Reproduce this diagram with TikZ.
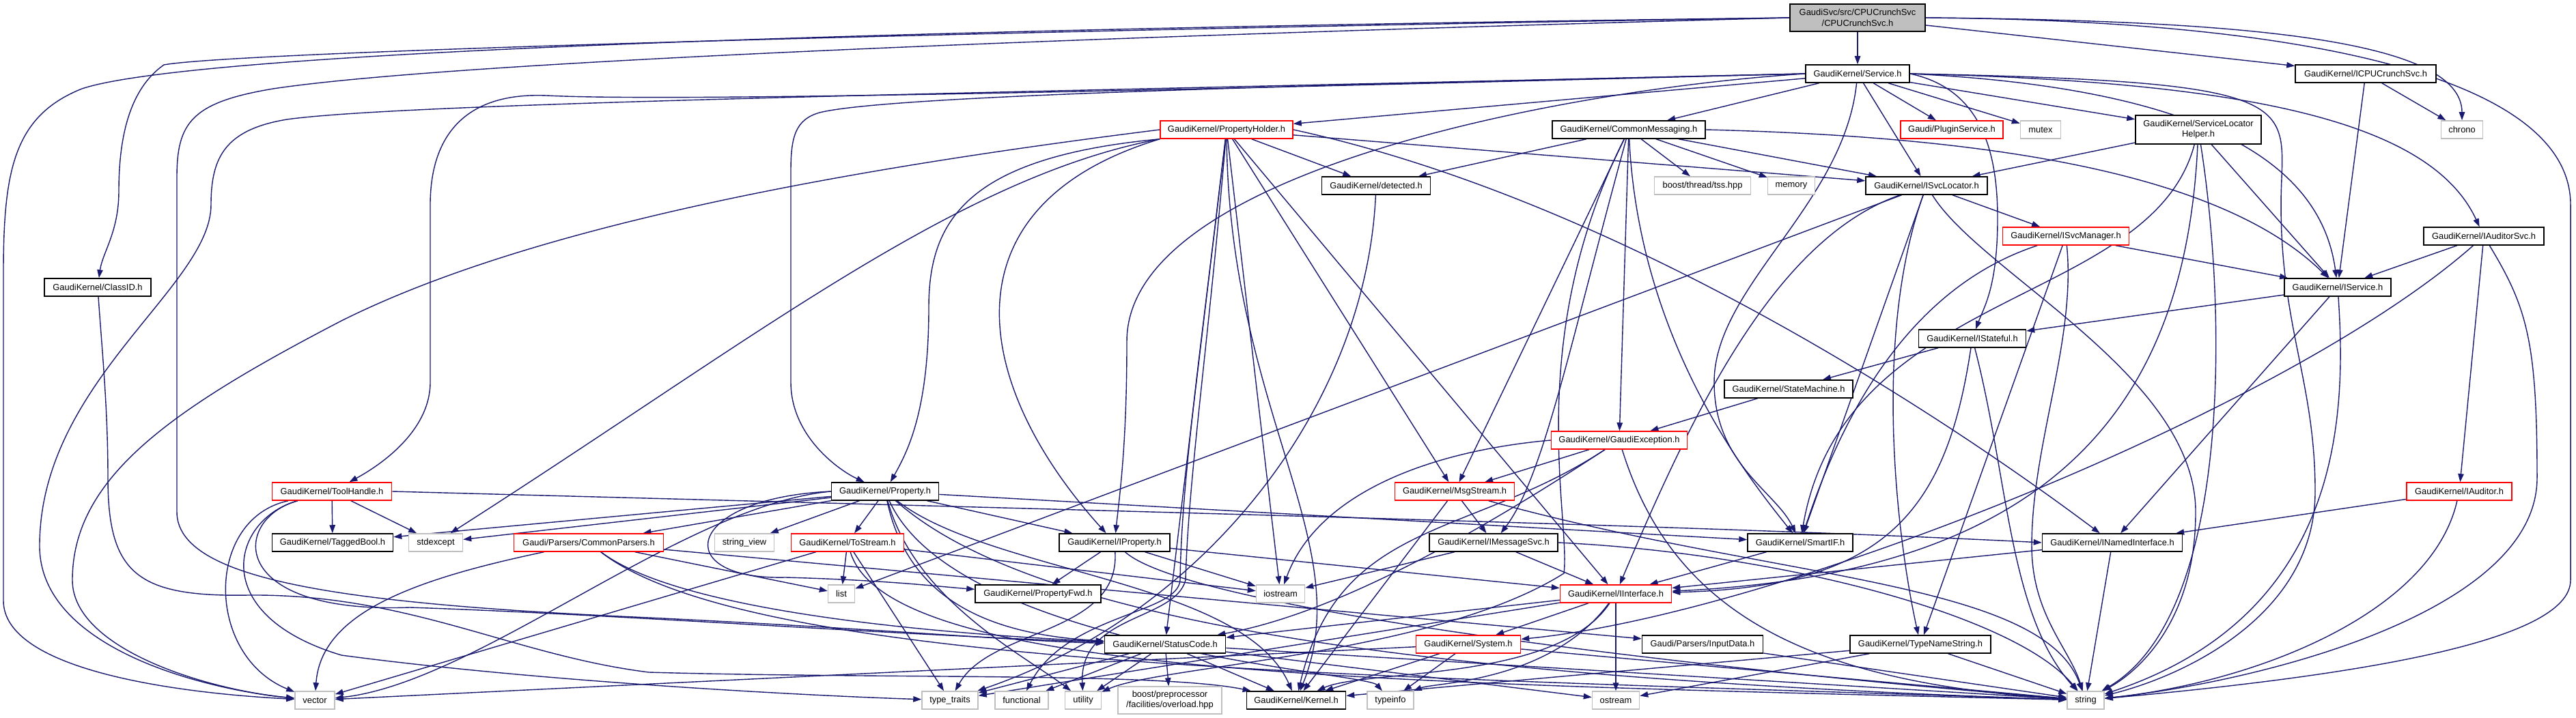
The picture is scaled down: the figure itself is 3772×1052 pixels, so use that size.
\documentclass[tikz,border=0pt]{standalone}
\usepackage{fontspec}
\setmainfont{Liberation Sans}
\usetikzlibrary{arrows.meta}
\definecolor{navyc}{HTML}{191970}
\definecolor{boxgray}{HTML}{BFBFBF}
\definecolor{boxred}{HTML}{FF0000}
\pgfdeclarelayer{bg}
\pgfsetlayers{bg,main}
\newcommand{\nodefont}{\fontsize{6.45pt}{7.6pt}\selectfont}
\tikzset{
  nb/.style={draw=black, fill=white, line width=0.75pt, inner sep=1pt, minimum height=13pt, font=\nodefont},
  nr/.style={nb, draw=boxred},
  ng/.style={nb, draw=boxgray},
  edg/.style={draw=navyc, line width=0.7pt, -{Triangle[length=6pt,width=4.2pt]}}
}
\begin{document}
\begin{tikzpicture}[x=0.5pt,y=-0.5pt]
\useasboundingbox (0,0) rectangle (3772,1052);
% nodes
\node[nb,fill=boxgray,minimum width=99pt,minimum height=20pt,align=center] (root) at (2720,26) {GaudiSvc/src/CPUCrunchSvc\\/CPUCrunchSvc.h};
\node[nb,minimum width=76pt] (service) at (2720,108) {GaudiKernel/Service.h};
\node[nb,minimum width=103pt] (icpu) at (3464,108) {GaudiKernel/ICPUCrunchSvc.h};
\node[nb,minimum width=78pt] (classid) at (143,421) {GaudiKernel/ClassID.h};
\node[nr,minimum width=97pt] (propholder) at (1796,190) {GaudiKernel/PropertyHolder.h};
\node[nb,minimum width=112pt] (commsg) at (2385,190) {GaudiKernel/CommonMessaging.h};
\node[nr,minimum width=75pt] (plugin) at (2858,190) {Gaudi/PluginService.h};
\node[ng,minimum width=29.5pt] (mutex) at (2988,190) {mutex};
\node[nb,minimum width=92pt,minimum height=21pt,align=center] (slh) at (3219,190) {GaudiKernel/ServiceLocator\\Helper.h};
\node[ng,minimum width=30.5pt] (chrono) at (3605,190) {chrono};
\node[nb,minimum width=79.5pt] (detected) at (2015,272) {GaudiKernel/detected.h};
\node[ng,minimum width=70.5pt] (tss) at (2493,272) {boost/thread/tss.hpp};
\node[ng,minimum width=34.5pt] (memory) at (2623,272) {memory};
\node[nb,minimum width=89pt] (isvcloc) at (2821,272) {GaudiKernel/ISvcLocator.h};
\node[nr,minimum width=92.5pt] (isvcmgr) at (3025,346) {GaudiKernel/ISvcManager.h};
\node[nb,minimum width=88pt] (iauditorsvc) at (3637,346) {GaudiKernel/IAuditorSvc.h};
\node[nb,minimum width=78pt] (iservice) at (3423,421) {GaudiKernel/IService.h};
\node[nb,minimum width=78.5pt] (istateful) at (2888,496) {GaudiKernel/IStateful.h};
\node[nb,minimum width=94pt] (statemachine) at (2619,570) {GaudiKernel/StateMachine.h};
\node[nr,minimum width=99.5pt] (gaudiexc) at (2371,645) {GaudiKernel/GaudiException.h};
\node[nr,minimum width=87.5pt] (toolhandle) at (486,720) {GaudiKernel/ToolHandle.h};
\node[nb,minimum width=88.5pt] (taggedbool) at (487,795) {GaudiKernel/TaggedBool.h};
\node[ng,minimum width=39.5pt] (stdexcept) at (638,795) {stdexcept};
\node[nr,minimum width=109.5pt] (commonparsers) at (862,795) {Gaudi/Parsers/CommonParsers.h};
\node[nb,minimum width=78.5pt] (property) at (1296,720) {GaudiKernel/Property.h};
\node[ng,minimum width=43.5pt] (stringview) at (1090,795) {string\_view};
\node[nr,minimum width=82.5pt] (tostream) at (1241,795) {GaudiKernel/ToStream.h};
\node[nb,minimum width=81pt] (iproperty) at (1632,795) {GaudiKernel/IProperty.h};
\node[ng,minimum width=19.5pt] (list) at (1232,870) {list};
\node[nb,minimum width=92pt] (propfwd) at (1520,870) {GaudiKernel/PropertyFwd.h};
\node[ng,minimum width=35.5pt] (iostream) at (1875,870) {iostream};
\node[nr,minimum width=87.5pt] (msgstream) at (2130,720) {GaudiKernel/MsgStream.h};
\node[nb,minimum width=94pt] (imsgsvc) at (2187,795) {GaudiKernel/IMessageSvc.h};
\node[nb,minimum width=77pt] (smartif) at (2636,795) {GaudiKernel/SmartIF.h};
\node[nb,minimum width=102.5pt] (inamed) at (3093,795) {GaudiKernel/INamedInterface.h};
\node[nr,minimum width=77pt] (iauditor) at (3601,720) {GaudiKernel/IAuditor.h};
\node[nr,minimum width=81.5pt] (iinterface) at (2366,870) {GaudiKernel/IInterface.h};
\node[nb,minimum width=88.5pt] (statuscode) at (1706,944) {GaudiKernel/StatusCode.h};
\node[nr,minimum width=76.5pt] (system) at (2150,944) {GaudiKernel/System.h};
\node[nb,minimum width=88.5pt] (inputdata) at (2493,944) {Gaudi/Parsers/InputData.h};
\node[nb,minimum width=103pt] (typename) at (2812,944) {GaudiKernel/TypeNameString.h};
\node[ng,minimum width=29pt] (vector) at (461,1026) {vector};
\node[ng,minimum width=41pt] (typetraits) at (1391,1026) {type\_traits};
\node[ng,minimum width=39pt] (functional) at (1496,1026) {functional};
\node[ng,minimum width=26.5pt] (utility) at (1586,1026) {utility};
\node[ng,minimum width=76pt,minimum height=20pt,align=center] (overload) at (1713,1026) {boost/preprocessor\\/facilities/overload.hpp};
\node[nb,minimum width=72.5pt] (kernel) at (1898,1026) {GaudiKernel/Kernel.h};
\node[ng,minimum width=34pt] (typeinfo) at (2036,1026) {typeinfo};
\node[ng,minimum width=34.5pt] (ostream) at (2366,1026) {ostream};
\node[ng,minimum width=27pt] (string) at (3054,1026) {string};

\begin{pgfonlayer}{bg}
\fill[white] (0,0) rectangle (3772,1052);
% root
\draw[edg] (root) -- (service);
\draw[edg] (root) -- (icpu);
\draw[edg] (root.east) .. controls (3300,30) and (3605,60) .. (chrono);
\draw[edg] (root.east) .. controls (3400,30) and (3764,120) .. (3764,300) -- (3764,850) .. controls (3764,940) and (3450,990) .. (string);
\draw[edg] (root.west) .. controls (1500,40) and (300,70) .. (120,130) .. controls (20,170) and (5,250) .. (5,400) -- (5,880) .. controls (5,980) and (250,1015) .. (vector);
\draw[edg] (root.west) .. controls (1500,44) and (350,75) .. (240,95) .. controls (190,130) and (174,200) .. (174,280) .. controls (174,340) and (150,370) .. (classid);
\draw[edg] (root.west) .. controls (1800,48) and (700,85) .. (400,130) .. controls (280,150) and (259,180) .. (259,260) -- (259,750) .. controls (259,850) and (500,885) .. (950,905) .. controls (1300,922) and (1500,940) .. (statuscode);
% service
\draw[edg] (service) -- (propholder);
\draw[edg] (service) -- (commsg);
\draw[edg] (service) -- (plugin);
\draw[edg] (service) -- (mutex);
\draw[edg] (service) -- (slh);
\draw[edg] (service) -- (isvcloc);
\draw[edg] (service.east) .. controls (3250,130) and (3400,250) .. (iservice);
\draw[edg] (service.east) .. controls (3300,120) and (3560,180) .. (iauditorsvc);
\draw[edg] (service) .. controls (2700,300) and (2510,420) .. (2510,560) .. controls (2510,680) and (2600,720) .. (smartif);
\draw[edg] (service.east) .. controls (2900,130) and (2925,220) .. (2925,320) .. controls (2925,420) and (2905,450) .. (istateful);
\draw[edg] (service.east) .. controls (3400,120) and (3340,150) .. (3340,300) .. controls (3340,480) and (3390,560) .. (3390,720) .. controls (3390,900) and (3200,990) .. (string);
\draw[edg] (service.west) .. controls (1900,125) and (1300,140) .. (1200,165) .. controls (1165,175) and (1158,200) .. (1158,250) -- (1158,560) .. controls (1158,640) and (1230,690) .. (property);
\draw[edg] (service.west) .. controls (2300,130) and (1650,250) .. (1650,500) .. controls (1650,650) and (1640,720) .. (iproperty);
\draw[edg] (service.west) .. controls (1800,130) and (1000,150) .. (800,140) .. controls (680,135) and (630,200) .. (630,300) -- (630,560) .. controls (630,630) and (560,680) .. (toolhandle);
\draw[edg] (service.west) .. controls (1500,135) and (600,150) .. (420,175) .. controls (330,190) and (309,230) .. (309,300) .. controls (309,420) and (58,560) .. (58,800) .. controls (58,950) and (300,1010) .. (vector);
% icpu
\draw[edg] (icpu) -- (iservice);
\draw[edg] (icpu) -- (chrono);
% classid
\draw[edg] (classid) .. controls (150,520) and (158,600) .. (158,700) .. controls (158,840) and (200,875) .. (364,872) .. controls (600,870) and (750,960) .. (950,985) .. controls (1300,995) and (1700,985) .. (kernel);
% propholder
\draw[edg] (propholder.west) .. controls (1300,240) and (800,320) .. (500,470) .. controls (250,600) and (106,700) .. (106,850) .. controls (106,950) and (300,1010) .. (vector);
\draw[edg] (propholder.south west) .. controls (1400,260) and (1100,500) .. (stdexcept);
\draw[edg] (propholder.south west) .. controls (1420,230) and (1360,320) .. (1360,450) .. controls (1360,600) and (1330,660) .. (property);
\draw[edg] (propholder.south west) .. controls (1380,300) and (1420,560) .. (iproperty);
\draw[edg] (propholder) -- (detected);
\draw[edg] (propholder) -- (isvcloc);
\draw[edg] (propholder.east) .. controls (2400,300) and (2900,650) .. (inamed);
\draw[edg] (propholder) -- (msgstream);
\draw[edg] (propholder) -- (iinterface);
\draw[edg] (propholder) -- (iostream);
\draw[edg] (propholder) -- (statuscode);
\draw[edg] (propholder) .. controls (1800,600) and (1990,800) .. (kernel);
\draw[edg] (propholder) .. controls (1760,500) and (1730,700) .. (1728,850) .. controls (1725,900) and (1560,900) .. (functional);
\draw[edg] (propholder) .. controls (1770,500) and (1740,700) .. (1736,850) .. controls (1720,910) and (1580,900) .. (utility);
% commsg
\draw[edg] (commsg) -- (detected);
\draw[edg] (commsg) -- (tss);
\draw[edg] (commsg) -- (memory);
\draw[edg] (commsg) -- (isvcloc);
\draw[edg] (commsg.east) .. controls (2900,200) and (3250,250) .. (iservice);
\draw[edg] (commsg) -- (gaudiexc);
\draw[edg] (commsg) -- (msgstream);
\draw[edg] (commsg) .. controls (2300,500) and (2260,700) .. (imsgsvc);
\draw[edg] (commsg) .. controls (2400,500) and (2560,700) .. (smartif);
\draw[edg] (commsg) .. controls (2230,500) and (2300,760) .. (2290,840) .. controls (2100,960) and (1700,975) .. (utility);
% slh
\draw[edg] (slh) -- (isvcloc);
\draw[edg] (slh) -- (iservice);
\draw[edg] (slh) .. controls (3150,450) and (2700,420) .. (smartif);
\draw[edg] (slh) .. controls (3260,450) and (3270,900) .. (string);
\draw[edg] (slh) .. controls (3200,600) and (3000,840) .. (iinterface);
% isvcloc
\draw[edg] (isvcloc) -- (isvcmgr);
\draw[edg] (isvcloc) -- (smartif);
\draw[edg] (isvcloc) .. controls (2740,500) and (2780,800) .. (typename);
\draw[edg] (isvcloc) .. controls (2600,350) and (2480,600) .. (iinterface);
\draw[edg] (isvcloc) -- (list);
\draw[edg] (isvcloc) .. controls (2900,400) and (3215,550) .. (3215,750) .. controls (3215,920) and (3120,990) .. (string);
% isvcmgr
\draw[edg] (isvcmgr) -- (iservice);
\draw[edg] (isvcmgr) .. controls (2800,420) and (2700,600) .. (smartif);
\draw[edg] (isvcmgr) -- (typename);
\draw[edg] (isvcmgr) .. controls (3040,500) and (2975,650) .. (2975,800) .. controls (2975,900) and (3030,950) .. (string);
% iauditorsvc
\draw[edg] (iauditorsvc) -- (iservice);
\draw[edg] (iauditorsvc) -- (iauditor);
\draw[edg] (iauditorsvc) .. controls (3700,450) and (3715,500) .. (3715,700) .. controls (3715,900) and (3300,1000) .. (string);
\draw[edg] (iauditorsvc) .. controls (3350,600) and (2600,900) .. (system);
% iservice
\draw[edg] (iservice) -- (istateful);
\draw[edg] (iservice) -- (inamed);
\draw[edg] (iservice) .. controls (3435,600) and (3435,900) .. (string);
% istateful
\draw[edg] (istateful) -- (statemachine);
\draw[edg] (istateful) .. controls (2850,750) and (2760,860) .. (iinterface);
\draw[edg] (istateful) .. controls (2941,700) and (2941,900) .. (string);
% statemachine
\draw[edg] (statemachine) -- (gaudiexc);
% gaudiexc
\draw[edg] (gaudiexc) -- (msgstream);
\draw[edg] (gaudiexc.west) .. controls (2100,660) and (1930,720) .. (iostream);
\draw[edg] (gaudiexc) .. controls (2450,900) and (2650,1000) .. (string);
\draw[edg] (gaudiexc) .. controls (2150,790) and (1960,760) .. (kernel);
\draw[edg] (gaudiexc) .. controls (2150,790) and (1950,900) .. (statuscode);
% msgstream
\draw[edg] (msgstream) -- (imsgsvc);
\draw[edg] (msgstream) -- (kernel);
\draw[edg] (msgstream) .. controls (2600,850) and (2990,850) .. (string);
% imsgsvc
\draw[edg] (imsgsvc) -- (iinterface);
\draw[edg] (imsgsvc) -- (iostream);
\draw[edg] (imsgsvc.east) .. controls (2600,810) and (2950,900) .. (string);
% smartif, inamed, iauditor
\draw[edg] (smartif) -- (iinterface);
\draw[edg] (inamed) -- (iinterface);
\draw[edg] (inamed) -- (string);
\draw[edg] (iauditor) -- (inamed);
\draw[edg] (iauditor) .. controls (3560,900) and (3300,1000) .. (string);
% toolhandle
\draw[edg] (toolhandle) -- (taggedbool);
\draw[edg] (toolhandle) -- (stdexcept);
\draw[edg] (toolhandle) .. controls (300,760) and (300,960) .. (vector);
\draw[edg] (toolhandle.east) .. controls (1500,745) and (2500,770) .. (inamed.west);
\draw[edg] (toolhandle) .. controls (340,760) and (300,900) .. (500,960) .. controls (800,1000) and (1200,1020) .. (typetraits);
\draw[edg] (toolhandle) .. controls (340,760) and (330,900) .. (600,890) .. controls (900,900) and (1300,930) .. (statuscode);
% property
\draw[edg] (property) -- (taggedbool);
\draw[edg] (property) -- (stdexcept);
\draw[edg] (property) -- (commonparsers);
\draw[edg] (property) -- (stringview);
\draw[edg] (property) -- (tostream);
\draw[edg] (property) -- (iproperty);
\draw[edg] (property.west) .. controls (1000,730) and (980,850) .. (1150,846) .. controls (1300,850) and (1380,860) .. (propfwd);
\draw[edg] (property) -- (smartif);
\draw[edg] (property) .. controls (1450,840) and (1820,850) .. (kernel);
\draw[edg] (property) .. controls (1330,880) and (1450,930) .. (statuscode);
\draw[edg] (property) .. controls (1500,900) and (2000,990) .. (string);
\draw[edg] (property.west) .. controls (1000,740) and (700,1000) .. (vector);
\draw[edg] (property) .. controls (1340,880) and (1500,960) .. (utility);
\draw[edg] (property) .. controls (1400,950) and (2000,985) .. (typeinfo);
% commonparsers
\draw[edg] (commonparsers) .. controls (600,850) and (470,900) .. (vector);
\draw[edg] (commonparsers) -- (list);
\draw[edg] (commonparsers) .. controls (1000,900) and (1400,930) .. (statuscode);
\draw[edg] (commonparsers) .. controls (1100,980) and (2000,990) .. (string);
\draw[edg] (commonparsers) -- (inputdata);
% tostream
\draw[edg] (tostream) -- (list);
\draw[edg] (tostream) -- (typetraits);
\draw[edg] (tostream) -- (vector);
\draw[edg] (tostream) -- (iostream);
\draw[edg] (tostream) .. controls (1300,990) and (2000,1000) .. (string);
% iproperty
\draw[edg] (iproperty) -- (propfwd);
\draw[edg] (iproperty) -- (iostream);
\draw[edg] (iproperty) -- (iinterface);
\draw[edg] (iproperty) .. controls (1750,900) and (2600,990) .. (string);
\draw[edg] (iproperty) .. controls (1640,930) and (1450,920) .. (typetraits);
% iinterface
\draw[edg] (iinterface) -- (statuscode);
\draw[edg] (iinterface) -- (system);
\draw[edg] (iinterface) .. controls (2280,1000) and (2000,980) .. (kernel);
\draw[edg] (iinterface) -- (ostream);
\draw[edg] (iinterface) .. controls (2270,1000) and (2100,1000) .. (typeinfo);
\draw[edg] (iinterface) -- (typetraits);
% statuscode
\draw[edg] (statuscode) -- (typetraits);
\draw[edg] (statuscode) -- (functional);
\draw[edg] (statuscode) -- (utility);
\draw[edg] (statuscode) -- (overload);
\draw[edg] (statuscode) -- (kernel);
\draw[edg] (statuscode) -- (ostream);
\draw[edg] (statuscode) -- (string);
% system
\draw[edg] (system) -- (kernel);
\draw[edg] (system) -- (typeinfo);
\draw[edg] (system) -- (string);
\draw[edg] (system) -- (vector);
% typename, inputdata, detected
\draw[edg] (typename) -- (kernel);
\draw[edg] (typename) -- (ostream);
\draw[edg] (typename) -- (string);
\draw[edg] (inputdata) -- (string);
\draw[edg] (detected) .. controls (2000,600) and (1760,900) .. (typetraits);
\end{pgfonlayer}
\end{tikzpicture}
\end{document}
